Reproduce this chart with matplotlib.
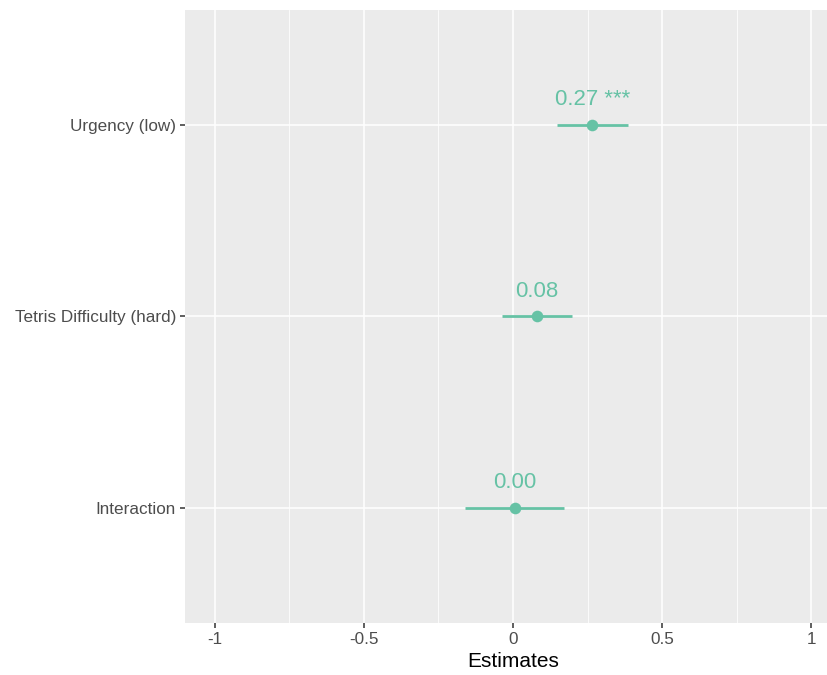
import matplotlib.pyplot as plt
from matplotlib.ticker import MultipleLocator

plt.rcParams['font.family'] = ['Liberation Sans', 'DejaVu Sans']

# Model terms (bottom to top) and their estimates with 95% CIs
terms = ["Interaction", "Tetris Difficulty (hard)", "Urgency (low)"]
estimates = [0.006, 0.08, 0.266]
ci_low = [-0.162, -0.038, 0.148]
ci_high = [0.171, 0.197, 0.384]
labels = ["0.00", "0.08", "0.27 ***"]

color = "#66c2a5"

fig = plt.figure(figsize=(8.28, 6.75), dpi=100)
# panel runs past the right edge of the image (the original was cropped)
ax = fig.add_axes([185 / 828, 52.3 / 675, 656 / 828, 612.7 / 675])
ax.set_facecolor("#ebebeb")

ypos = list(range(1, len(terms) + 1))

# Grid lines
ax.set_xlim(-1.1, 1.1)
ax.set_ylim(0.4, 3.6)
ax.xaxis.set_major_locator(MultipleLocator(0.5))
ax.xaxis.set_minor_locator(MultipleLocator(0.25))
ax.grid(which="major", axis="x", color="white", linewidth=1.1)
ax.grid(which="minor", axis="x", color="white", linewidth=0.55)
ax.grid(which="major", axis="y", color="white", linewidth=1.1)
ax.set_axisbelow(True)

# Error bars and points
ax.hlines(ypos, ci_low, ci_high, color=color, linewidth=2, zorder=3)
ax.scatter(estimates, ypos, s=70, color=color, zorder=4, linewidths=0)

# Value labels
for x, y, lab in zip(estimates, ypos, labels):
    ax.annotate(lab, (x, y), xytext=(0, 14), textcoords="offset points",
                ha="center", va="baseline", fontsize=16, color=color)

ax.set_yticks(ypos)
ax.set_yticklabels(terms)
ax.set_xticks([-1, -0.5, 0, 0.5, 1])
ax.set_xticklabels(["-1", "-0.5", "0", "0.5", "1"])

ax.tick_params(axis="both", which="major", length=3.5, width=1.1, color="#333333",
               labelcolor="#4d4d4d", labelsize=12.3, pad=3)
ax.tick_params(axis="x", which="minor", length=0)
ax.set_xlabel("Estimates", fontsize=15, color="black", labelpad=4)

for s in ax.spines.values():
    s.set_visible(False)

plt.savefig("out.png", dpi=100)
plt.close()
